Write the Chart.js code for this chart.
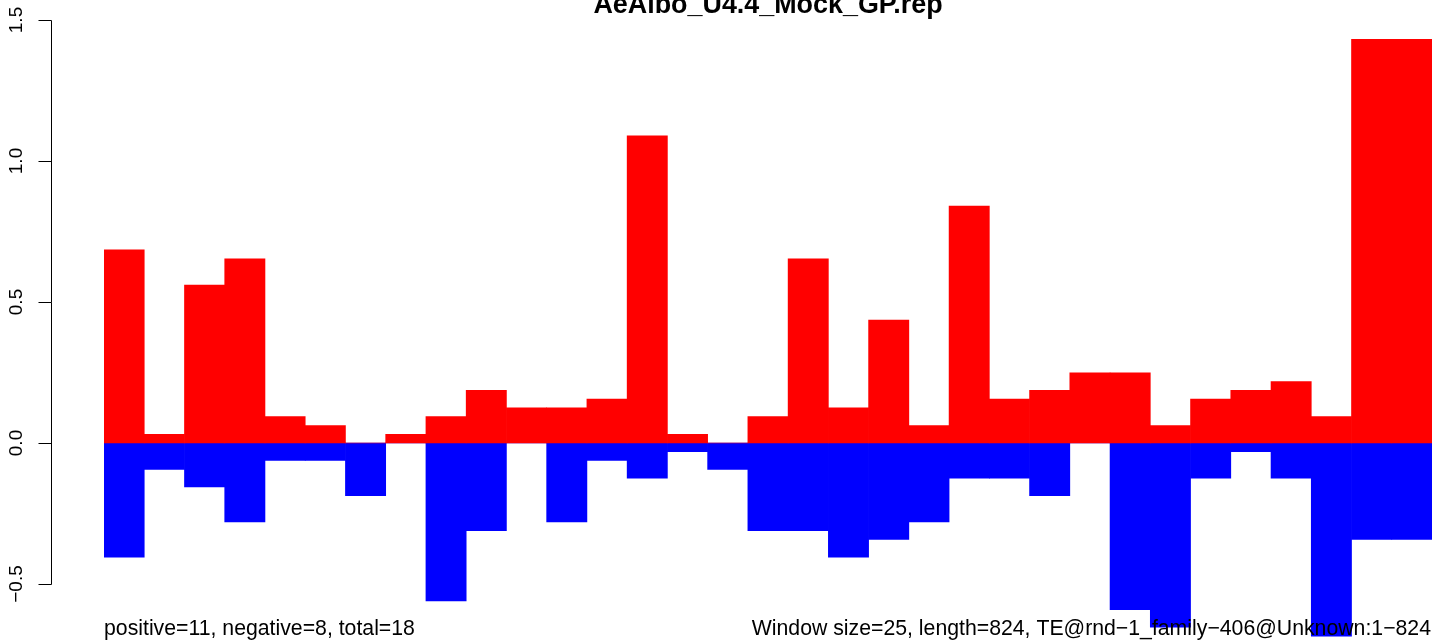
<!DOCTYPE html>
<html>
<head>
<meta charset="utf-8">
<script src="https://cdn.jsdelivr.net/npm/chart.js@4/dist/chart.umd.min.js"></script>
<style>
  html, body { margin: 0; padding: 0; background: #fff; overflow: hidden; }
  #wrap { position: relative; width: 1436px; height: 641px; }
</style>
</head>
<body>
<div id="wrap"><canvas id="c" width="1436" height="641"></canvas></div>
<script>
// ---- data ----
const categories = Array.from({length: 33}, (_, i) => String(i + 1));
const positiveValues = [0.6846, 0.0311, 0.5602, 0.6535, 0.0934, 0.0622, 0, 0.0311, 0.0934, 0.1867,
  0.1245, 0.1245, 0.1556, 1.0892, 0.0311, 0, 0.0934, 0.6535, 0.1245, 0.4357,
  0.0622, 0.8402, 0.1556, 0.1867, 0.2490, 0.2490, 0.0622, 0.1556, 0.1867, 0.2178,
  0.0934, 1.4315, 1.4315];
const negativeValues = [-0.4046, -0.0934, -0.1556, -0.2801, -0.0622, -0.0622, -0.1867, 0, -0.5602, -0.3112,
  0, -0.2801, -0.0622, -0.1245, -0.0311, -0.0934, -0.3112, -0.3112, -0.4046, -0.3423,
  -0.2801, -0.1245, -0.1245, -0.1867, 0, -0.5913, -0.6535, -0.1245, -0.0311, -0.1245,
  -0.6846, -0.3423, -0.3423];
const yTickValues = [-0.5, 0.0, 0.5, 1.0, 1.5];
const yTickLabels = ["\u22120.5", "0.0", "0.5", "1.0", "1.5"];
const titleText = "AeAlbo_U4.4_Mock_GP.rep";
const footLeft = "positive=11, negative=8, total=18";
const footRight = "Window size=25, length=824, TE@rnd\u22121_family\u2212406@Unknown:1\u2212824";

// ---- layout / style ----
const FONT = '"Liberation Sans", Arial, Helvetica, sans-serif';
const AXIS_X = 51, TICK_LEN = 13, LABEL_BASE_X = 21.5;

const decorations = {
  id: 'decorations',
  afterDraw(chart) {
    const ctx = chart.ctx;
    const y = chart.scales.y;
    ctx.save();
    // y axis line + ticks
    ctx.strokeStyle = '#000';
    ctx.lineWidth = 1;
    const yTop = Math.round(y.getPixelForValue(Math.max(...yTickValues))) + 0.5;
    const yBot = Math.round(y.getPixelForValue(Math.min(...yTickValues))) + 0.5;
    ctx.beginPath();
    ctx.moveTo(AXIS_X + 0.5, yTop);
    ctx.lineTo(AXIS_X + 0.5, yBot);
    yTickValues.forEach(v => {
      const py = Math.round(y.getPixelForValue(v)) + 0.5;
      ctx.moveTo(AXIS_X + 0.5, py);
      ctx.lineTo(AXIS_X + 0.5 - TICK_LEN, py);
    });
    ctx.stroke();
    // tick labels (rotated)
    ctx.fillStyle = '#000';
    ctx.font = '19px ' + FONT;
    ctx.textAlign = 'center';
    ctx.textBaseline = 'alphabetic';
    yTickValues.forEach((v, i) => {
      const py = y.getPixelForValue(v);
      ctx.save();
      ctx.translate(LABEL_BASE_X, py);
      ctx.rotate(-Math.PI / 2);
      ctx.fillText(yTickLabels[i], 0, 0);
      ctx.restore();
    });
    // title
    ctx.font = 'bold 26.9px ' + FONT;
    ctx.textAlign = 'center';
    ctx.fillText(titleText, 768, 13);
    // footers
    ctx.font = '21.25px ' + FONT;
    ctx.textAlign = 'left';
    ctx.fillText(footLeft, 104, 635);
    ctx.textAlign = 'right';
    ctx.fillText(footRight, 1431, 635);
    ctx.restore();
  }
};

new Chart(document.getElementById('c'), {
  type: 'bar',
  data: {
    labels: categories,
    datasets: [
      { label: 'positive', data: positiveValues, backgroundColor: '#FF0000', borderWidth: 0 },
      { label: 'negative', data: negativeValues, backgroundColor: '#0000FF', borderWidth: 0 }
    ]
  },
  options: {
    responsive: false,
    animation: false,
    events: [],
    layout: { padding: { left: 104, right: 4, top: 0, bottom: 0 } },
    datasets: { bar: { categoryPercentage: 1.0, barPercentage: 1.0, grouped: false } },
    plugins: { legend: { display: false }, tooltip: { enabled: false }, title: { display: false } },
    scales: {
      x: { display: false, offset: true },
      y: { display: false, min: -198 / 282, max: 443 / 282 }
    }
  },
  plugins: [decorations]
});
</script>
</body>
</html>
